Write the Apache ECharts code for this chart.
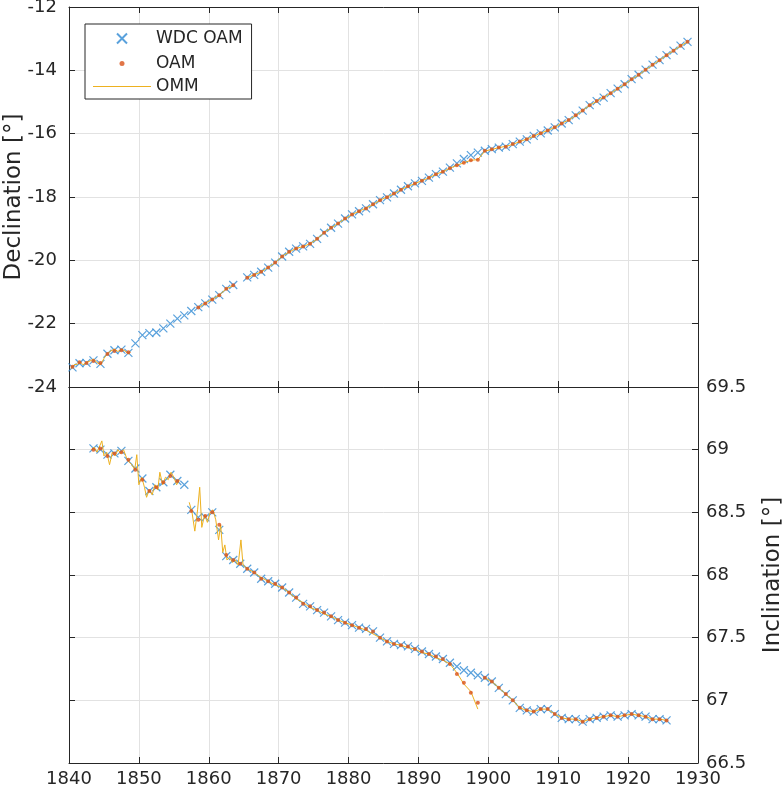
<!DOCTYPE html>
<html>
<head>
<meta charset="utf-8">
<script src="https://cdn.jsdelivr.net/npm/echarts@6/dist/echarts.min.js"></script>
<style>
  html, body { margin: 0; padding: 0; background: #fff; }
  #chart { width: 783px; height: 793px; }
</style>
</head>
<body>
<div id="chart"></div>
<script>
// x ticks (years)
const yearTicks = [1840, 1850, 1860, 1870, 1880, 1890, 1900, 1910, 1920, 1930];

// Declination, annual means plotted at mid-year, first one 1840.5
const declStart = 1840.5;
const wdcDecl = [
  -23.38, -23.25, -23.24, -23.16, -23.27, -22.95, -22.84, -22.82, -22.92, -22.62,
  -22.36, -22.30, -22.28, -22.15, -22.00, -21.84, -21.74, -21.60, -21.48, -21.36,
  -21.24, -21.10, -20.90, -20.78, null, -20.54, -20.46, -20.36, -20.23, -20.07,
  -19.88, -19.73, -19.63, -19.56, -19.48, -19.32, -19.13, -18.97, -18.84, -18.68,
  -18.55, -18.45, -18.36, -18.23, -18.10, -18.01, -17.89, -17.77, -17.66, -17.57,
  -17.49, -17.39, -17.28, -17.20, -17.07, -16.94, -16.80, -16.68, -16.60, -16.54,
  -16.49, -16.44, -16.41, -16.33, -16.25, -16.18, -16.07, -15.99, -15.90, -15.80,
  -15.68, -15.57, -15.42, -15.27, -15.10, -14.97, -14.86, -14.72, -14.58, -14.44,
  -14.28, -14.14, -13.98, -13.82, -13.68, -13.52, -13.38, -13.22, -13.10
];
const oamDecl = [
  -23.36, -23.22, -23.24, -23.18, -23.24, -22.96, -22.86, -22.84, -22.90, null,
  null, null, null, null, null, null, null, null, -21.49, -21.36,
  -21.24, -21.10, -20.90, -20.79, null, -20.55, -20.46, -20.36, -20.23, -20.07,
  -19.88, -19.73, -19.63, -19.56, -19.48, -19.32, -19.13, -18.97, -18.84, -18.68,
  -18.55, -18.45, -18.36, -18.23, -18.10, -18.01, -17.89, -17.77, -17.66, -17.57,
  -17.49, -17.39, -17.28, -17.20, -17.09, -17.00, -16.92, -16.84, -16.82, -16.54,
  -16.49, -16.44, -16.41, -16.33, -16.25, -16.18, -16.07, -15.99, -15.90, -15.80,
  -15.68, -15.57, -15.42, -15.27, -15.10, -14.97, -14.86, -14.72, -14.58, -14.44,
  -14.28, -14.14, -13.98, -13.82, -13.68, -13.52, -13.38, -13.22, -13.10
];
// monthly means: noisy early stretch as [year, value]
const ommDeclEarly = [
  [1840.3, -23.42], [1840.7, -23.30], [1841.2, -23.28], [1841.6, -23.20], [1842.0, -23.30],
  [1842.5, -23.22], [1843.0, -23.18], [1843.5, -23.12], [1844.0, -23.22], [1844.5, -23.30],
  [1845.0, -23.10], [1845.5, -22.94], [1846.0, -22.86], [1846.5, -22.80], [1847.0, -22.88],
  [1847.5, -22.80], [1848.0, -22.86], [1848.5, -22.95], [1848.8, -22.90]
];
const ommDeclStart = 1858.5;
const ommDecl = [
  -21.50, -21.35, -21.23, -21.10, -20.90, -20.80, null, -20.55, -20.45, -20.37,
  -20.22, -20.08, -19.87, -19.74, -19.62, -19.57, -19.47, -19.33, -19.12, -18.98,
  -18.83, -18.69, -18.55, -18.45, -18.35, -18.24, -18.10, -18.00, -17.90, -17.77,
  -17.66, -17.58, -17.48, -17.40, -17.28, -17.20, -17.09, -17.00, -16.92, -16.84,
  -16.82, -16.55, -16.50, -16.44, -16.40, -16.34, -16.25, -16.17, -16.08, -15.98,
  -15.90, -15.80, -15.67, -15.57, -15.43, -15.27, -15.10, -14.98, -14.85, -14.72,
  -14.58, -14.45, -14.28, -14.15, -13.98, -13.83, -13.68, -13.52, -13.38, -13.23,
  -13.10
];

// Inclination, annual means, first one 1843.5
const inclStart = 1843.5;
const wdcIncl = [
  69.01, 69.00, 68.96, 68.97, 68.99, 68.91, 68.85, 68.77, 68.67, 68.70,
  68.74, 68.80, 68.75, 68.72, 68.52, 68.46, 68.46, 68.50, 68.36, 68.15,
  68.12, 68.09, 68.05, 68.02, 67.97, 67.95, 67.93, 67.90, 67.86, 67.82,
  67.77, 67.75, 67.72, 67.70, 67.67, 67.64, 67.62, 67.60, 67.58, 67.57,
  67.55, 67.50, 67.47, 67.45, 67.44, 67.43, 67.41, 67.39, 67.37, 67.35,
  67.33, 67.30, 67.27, 67.24, 67.22, 67.20, 67.18, 67.15, 67.10, 67.05,
  67.00, 66.94, 66.92, 66.91, 66.93, 66.93, 66.89, 66.86, 66.85, 66.85,
  66.83, 66.85, 66.86, 66.87, 66.88, 66.87, 66.88, 66.89, 66.88, 66.87,
  66.85, 66.85, 66.84
];
const oamIncl = [
  69.00, 69.01, 68.95, 68.97, 68.98, 68.92, 68.84, 68.76, 68.67, 68.70,
  68.74, 68.79, 68.75, null, 68.51, 68.44, 68.47, 68.50, 68.40, 68.16,
  68.12, 68.09, 68.05, 68.02, 67.97, 67.95, 67.93, 67.90, 67.86, 67.82,
  67.77, 67.75, 67.72, 67.70, 67.67, 67.64, 67.62, 67.60, 67.58, 67.57,
  67.55, 67.50, 67.47, 67.45, 67.44, 67.43, 67.41, 67.39, 67.37, 67.35,
  67.33, 67.29, 67.21, 67.14, 67.06, 66.98, 67.18, 67.15, 67.10, 67.05,
  67.00, 66.94, 66.92, 66.91, 66.93, 66.93, 66.89, 66.86, 66.85, 66.85,
  66.83, 66.85, 66.86, 66.87, 66.88, 66.87, 66.88, 66.89, 66.88, 66.87,
  66.85, 66.85, 66.84
];
const ommInclEarly = [
  [1843.2, 69.00], [1843.6, 69.02], [1844.0, 68.98], [1844.4, 69.03], [1844.7, 69.07],
  [1845.0, 68.95], [1845.4, 68.98], [1845.8, 68.88], [1846.2, 68.98], [1846.6, 68.95],
  [1847.0, 69.00], [1847.4, 68.97], [1847.8, 69.00], [1848.2, 68.94], [1848.6, 68.90],
  [1849.0, 68.88], [1849.4, 68.84], [1849.7, 68.96], [1850.0, 68.72], [1850.4, 68.78],
  [1850.8, 68.70], [1851.1, 68.62], [1851.5, 68.68], [1851.9, 68.64], [1852.3, 68.72],
  [1852.7, 68.68], [1853.0, 68.82], [1853.4, 68.72], [1853.8, 68.78], [1854.2, 68.76],
  [1854.6, 68.82], [1855.0, 68.78], [1855.4, 68.72], [1855.8, 68.76], null,
  [1857.2, 68.58], [1857.6, 68.50], [1858.0, 68.35], [1858.4, 68.52], [1858.7, 68.70],
  [1859.0, 68.38], [1859.4, 68.48], [1859.8, 68.42], [1860.2, 68.50], [1860.6, 68.52],
  [1861.0, 68.44], [1861.4, 68.28], [1861.7, 68.40], [1862.0, 68.18], [1862.3, 68.24],
  [1862.6, 68.12], [1863.0, 68.14], [1863.4, 68.10], [1863.8, 68.12], [1864.2, 68.08],
  [1864.6, 68.28], [1864.9, 68.08], [1865.5, 68.05]
];
const ommInclAStart = 1866.5;
const ommInclA = [
  68.02, 67.98, 67.95, 67.92, 67.90, 67.86, 67.81, 67.78, 67.74, 67.72,
  67.69, 67.67, 67.64, 67.62, 67.60, 67.58, 67.56, 67.53, 67.50, 67.47,
  67.45, 67.44, 67.42, 67.41, 67.38, 67.37, 67.34, 67.32, 67.29, 67.22,
  67.13, 67.07, 66.93
];
const ommInclBStart = 1899.5;
const ommInclB = [
  67.18, 67.15, 67.10, 67.05, 67.00, 66.94, 66.92, 66.91, 66.93, 66.93,
  66.89, 66.86, 66.85, 66.85, 66.83, 66.85, 66.86, 66.87, 66.88, 66.87,
  66.88, 66.89, 66.88, 66.87, 66.85, 66.85, 66.84
];

// turn yearly arrays into [x, y] pairs (null keeps a gap)
function toPairs(start, vals) {
  return vals.map((v, i) => (v === null ? null : [start + i, v]));
}
function toLine(start, vals) {
  return vals.map((v, i) => (v === null ? [start + i, '-'] : [start + i, v]));
}

const ink = '#262626';
const font = 'DejaVu Sans';
const cross = 'path://M0,0L10,10M10,0L0,10';
const blue = '#2f8ad3';
const orange = '#D95319';
const yellow = '#EDB120';

function xAx(grid, pos, labels) {
  return {
    type: 'value', gridIndex: grid, position: pos,
    min: yearTicks[0], max: yearTicks[yearTicks.length - 1], interval: 10,
    axisLine: { show: true, onZero: false, lineStyle: { color: ink } },
    axisTick: { show: true, inside: true, length: 6, lineStyle: { color: ink } },
    axisLabel: { show: labels, color: ink, fontSize: 18, fontFamily: font, margin: 7,
                 formatter: v => String(v) },
    splitLine: { show: pos === 'bottom', lineStyle: { color: '#e2e2e2' } }
  };
}
function yAx(grid, pos, min, max, step, labels, name, gap) {
  return {
    type: 'value', gridIndex: grid, position: pos,
    min: min, max: max, interval: step,
    name: name || '', nameLocation: 'middle', nameGap: gap || 0, nameRotate: 90,
    nameMoveOverlap: false,
    nameTextStyle: { color: ink, fontSize: 23, fontFamily: font },
    axisLine: { show: true, onZero: false, lineStyle: { color: ink } },
    axisTick: { show: true, inside: true, length: 6, lineStyle: { color: ink } },
    axisLabel: { show: labels, color: ink, fontSize: 18, fontFamily: font, margin: pos === 'left' ? 12 : 8 },
    splitLine: { show: labels, lineStyle: { color: '#e2e2e2' } }
  };
}

const chart = echarts.init(document.getElementById('chart'));
chart.setOption({
  animation: false,
  backgroundColor: '#fff',
  grid: [
    { left: 69, top: 7, width: 629, height: 380, outerBoundsMode: 'none', containLabel: false },
    { left: 69, top: 387, width: 629, height: 376, outerBoundsMode: 'none', containLabel: false }
  ],
  xAxis: [
    xAx(0, 'bottom', false), xAx(0, 'top', false),
    xAx(1, 'bottom', true), xAx(1, 'top', false)
  ],
  yAxis: [
    yAx(0, 'left', -24, -12, 2, true, 'Declination [°]', 43),
    yAx(0, 'right', -24, -12, 2, false),
    yAx(1, 'right', 66.5, 69.5, 0.5, true, 'Inclination [°]', 64),
    yAx(1, 'left', 66.5, 69.5, 0.5, false)
  ],
  legend: {
    left: 85, top: 24, orient: 'vertical',
    padding: [4, 9, 4, 8], itemGap: 6, itemWidth: 58, itemHeight: 16,
    backgroundColor: '#fff', borderColor: ink, borderWidth: 1, borderRadius: 0,
    textStyle: { color: ink, fontSize: 17, fontFamily: font, lineHeight: 17 },
    data: [
      { name: 'WDC OAM', icon: 'path://M-3,-3M13,13M0,0L10,10M10,0L0,10' },
      { name: 'OAM', icon: 'path://M0,0M16,16M5.5,8a2.5,2.5 0 1,0 5,0a2.5,2.5 0 1,0 -5,0' },
      { name: 'OMM', icon: 'path://M0,0M58,16M0,7.4L58,7.4L58,8.6L0,8.6Z' }
    ]
  },
  series: [
    {
      name: 'WDC OAM', type: 'scatter', xAxisIndex: 0, yAxisIndex: 0, z: 2,
      symbol: cross, symbolSize: 8,
      itemStyle: { color: 'none', borderColor: blue, borderWidth: 1.2 },
      data: toPairs(declStart, wdcDecl).filter(p => p)
    },
    {
      name: 'OMM', type: 'line', xAxisIndex: 0, yAxisIndex: 0, z: 3,
      symbol: 'none', lineStyle: { color: yellow, width: 1 }, itemStyle: { color: yellow },
      data: ommDeclEarly.concat([[1849, '-']], toLine(ommDeclStart, ommDecl))
    },
    {
      name: 'OAM', type: 'scatter', xAxisIndex: 0, yAxisIndex: 0, z: 4,
      symbol: 'circle', symbolSize: 4, itemStyle: { color: orange },
      data: toPairs(declStart, oamDecl).filter(p => p)
    },
    {
      name: 'WDC OAM', type: 'scatter', xAxisIndex: 2, yAxisIndex: 2, z: 2,
      symbol: cross, symbolSize: 8,
      itemStyle: { color: 'none', borderColor: blue, borderWidth: 1.2 },
      data: toPairs(inclStart, wdcIncl).filter(p => p)
    },
    {
      name: 'OMM', type: 'line', xAxisIndex: 2, yAxisIndex: 2, z: 3,
      symbol: 'none', lineStyle: { color: yellow, width: 1 }, itemStyle: { color: yellow },
      data: ommInclEarly.map(p => (p === null ? [1856.5, '-'] : p))
        .concat(toLine(ommInclAStart, ommInclA), [[1899.2, '-']], toLine(ommInclBStart, ommInclB))
    },
    {
      name: 'OAM', type: 'scatter', xAxisIndex: 2, yAxisIndex: 2, z: 4,
      symbol: 'circle', symbolSize: 4, itemStyle: { color: orange },
      data: toPairs(inclStart, oamIncl).filter(p => p)
    }
  ]
});
</script>
</body>
</html>
